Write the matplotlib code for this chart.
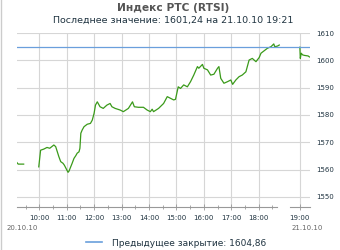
import matplotlib
matplotlib.use('Agg')
import matplotlib.pyplot as plt
from matplotlib.lines import Line2D

# данные: время (ЧЧ:ММ) и значение индекса
pre_times = ['9:11', '9:14', '9:26']
pre_vals = [1562.6, 1562.0, 1562.0]

day1_times = ['9:59', '10:03', '10:10', '10:17', '10:23', '10:32', '10:36', '10:43', '10:47',
              '10:52', '10:55', '11:03', '11:05', '11:12', '11:16', '11:20', '11:23', '11:27',
              '11:29', '11:31', '11:34', '11:38', '11:45', '11:52', '11:56', '12:00', '12:03',
              '12:07', '12:13', '12:20', '12:28', '12:35', '12:39', '12:46', '12:57', '13:04',
              '13:15', '13:24', '13:28', '13:37', '13:48', '13:56', '14:03', '14:07', '14:10',
              '14:21', '14:32', '14:40', '14:47', '14:54', '14:58', '15:04', '15:09', '15:16',
              '15:24', '15:31', '15:38', '15:46', '15:49', '15:57', '16:00', '16:08', '16:15',
              '16:22', '16:30', '16:33', '16:37', '16:44', '16:52', '16:59', '17:03', '17:10',
              '17:17', '17:24', '17:32', '17:39', '17:46', '17:54', '18:01', '18:05', '18:12',
              '18:19', '18:27', '18:33', '18:35', '18:41', '18:45']
day1_vals = [1561.0, 1567.1, 1567.5, 1568.1, 1567.8, 1569.0, 1568.4, 1564.7, 1562.9,
             1562.3, 1561.6, 1559.0, 1559.4, 1562.3, 1564.1, 1565.1, 1566.0, 1566.5,
             1567.8, 1573.3, 1574.5, 1575.7, 1576.6, 1576.9, 1578.1, 1580.6, 1583.6,
             1584.8, 1583.0, 1582.4, 1583.6, 1584.2, 1583.0, 1582.4, 1581.8, 1581.2,
             1582.4, 1584.8, 1583.0, 1582.8, 1582.8, 1581.8, 1581.2, 1582.1, 1581.2,
             1582.4, 1584.2, 1586.7, 1586.1, 1585.5, 1585.7, 1590.3, 1589.7, 1591.0,
             1590.3, 1592.2, 1594.6, 1597.7, 1597.1, 1598.5, 1597.1, 1596.5, 1594.6,
             1594.9, 1597.1, 1597.7, 1593.4, 1591.6, 1592.2, 1592.8, 1591.2, 1592.8,
             1594.0, 1594.6, 1595.8, 1600.1, 1600.7, 1599.5, 1601.0, 1602.6, 1603.5,
             1604.4, 1605.0, 1606.0, 1605.0, 1605.2, 1605.6]

day2_times = ['19:00', '19:01', '19:03', '19:06', '19:10', '19:18', '19:21']
day2_vals = [1604.8, 1600.7, 1602.6, 1602.0, 1601.8, 1601.6, 1601.24]

prev_close = 1604.86
last_value = '1601,24'
hour_labels = ['10:00', '11:00', '12:00', '13:00', '14:00', '15:00', '16:00', '17:00', '18:00', '19:00']
y_ticks = [1550, 1560, 1570, 1580, 1590, 1600, 1610]

DAY2_SHIFT = 0.5  # разрыв оси между днями, в часах


def to_h(t, shift=0.0):
    h, m = t.split(':')
    return int(h) + int(m) / 60 + shift


fig = plt.figure(figsize=(3.4, 2.5), dpi=100)
ax = fig.add_axes([17 / 340, 1 - 207 / 250, 293 / 340, 174 / 250])
xmin, xmax = 9.19, 19.87
ax.set_xlim(xmin, xmax)
ax.set_ylim(1546.3, 1610)

green = '#3a9a1a'
ax.plot([to_h(t) for t in pre_times], pre_vals, color=green, lw=0.9)
ax.plot([to_h(t) for t in day1_times], day1_vals, color=green, lw=0.9)
ax.plot([to_h(t, DAY2_SHIFT) for t in day2_times], day2_vals, color=green, lw=0.9)
ax.axhline(prev_close, color='#6a9fdc', lw=0.9, zorder=3)

for s in ax.spines.values():
    s.set_visible(False)

# ось X с разрывом
end1 = to_h('18:40')
start2 = to_h('19:00', DAY2_SHIFT) - 0.37
ax.plot([xmin, end1], [1546.3, 1546.3], color='#999999', lw=0.8, clip_on=False)
ax.plot([start2, xmax], [1546.3, 1546.3], color='#999999', lw=0.8, clip_on=False)

major = [to_h(t) for t in hour_labels[:-1]] + [to_h(hour_labels[-1], DAY2_SHIFT)]
ax.set_xticks(major)
ax.set_xticklabels(hour_labels)
ax.set_xticks([h + 0.5 for h in range(9, 19)], minor=True)
ax.tick_params(axis='x', which='major', direction='inout', length=5, width=0.6,
               color='#999999', labelsize=5, labelcolor='#1f3340', pad=3)
ax.tick_params(axis='x', which='minor', direction='inout', length=3, width=0.6, color='#999999')

ax.yaxis.tick_right()
ax.set_yticks(y_ticks)
ax.tick_params(axis='y', length=0, labelsize=5, labelcolor='#1f3340', pad=4.5)

ax.grid(True, which='major', color='#d6d6d6', lw=0.8)
ax.set_axisbelow(True)

ax.text(22 / 340, 1 - 228 / 250, '20.10.10', transform=fig.transFigure,
        ha='center', va='center', fontsize=5, color='#666666')
ax.text(307 / 340, 1 - 228 / 250, '21.10.10', transform=fig.transFigure,
        ha='center', va='center', fontsize=5, color='#666666')

fig.text(0.51, 1 - 8 / 250, 'Индекс РТС (RTSI)', ha='center', va='center',
         fontsize=7.7, fontweight='bold', color='#555555')
fig.text(0.51, 1 - 20 / 250, 'Последнее значение: ' + last_value + ' на 21.10.10 19:21',
         ha='center', va='center', fontsize=6.8, color='#1f3340')

handle = Line2D([], [], color='#6a9fdc', lw=1.2)
fig.legend([handle], ['Предыдущее закрытие: ' + str(prev_close).replace('.', ',')],
           loc='center', bbox_to_anchor=(176 / 340, 1 - 243 / 250), frameon=False,
           fontsize=6.5, handlelength=1.8, handletextpad=1.0, labelcolor='#1f3340')

# серая рамка слева
fig.add_artist(Line2D([0.002, 0.002], [0, 1], transform=fig.transFigure, color='#cccccc', lw=1))

fig.savefig('out.png', dpi=100)
